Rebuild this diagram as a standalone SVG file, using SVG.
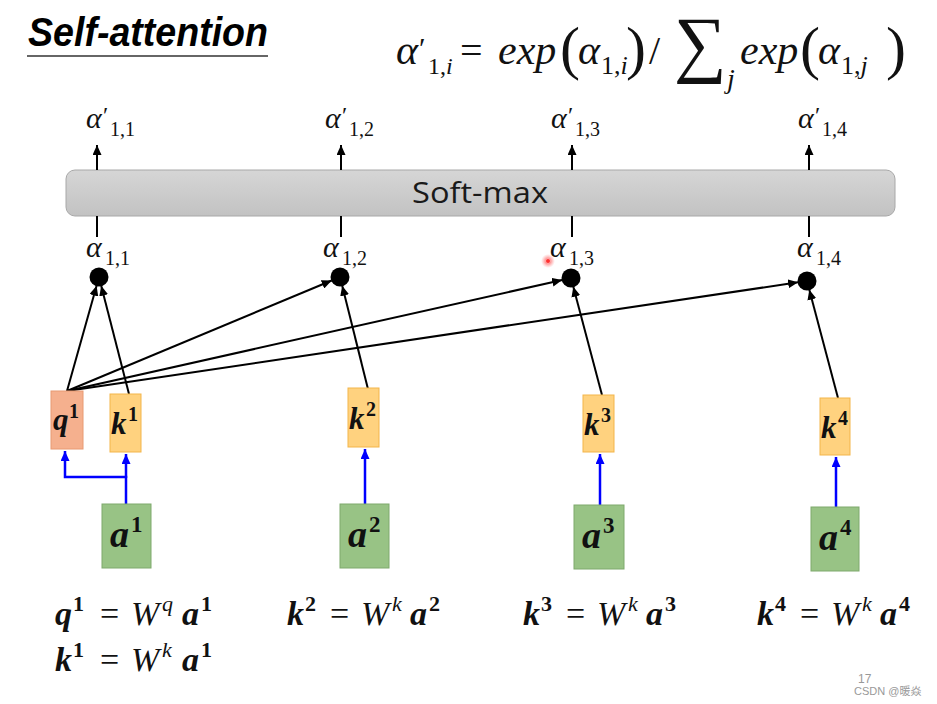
<svg xmlns="http://www.w3.org/2000/svg" width="937" height="704" viewBox="0 0 937 704">
<defs>
<style>
.m{font-family:"Liberation Serif","DejaVu Serif",serif;font-style:italic;fill:#111}
.u{font-family:"Liberation Serif","DejaVu Serif",serif;font-style:normal;fill:#111}
.b{font-family:"Liberation Serif","DejaVu Serif",serif;font-style:italic;font-weight:bold;fill:#111}
.bu{font-family:"Liberation Serif","DejaVu Serif",serif;font-style:normal;font-weight:bold;fill:#111}
.ln{stroke:#000;stroke-width:2;fill:none}
.bl{stroke:#0000ff;stroke-width:2.5;fill:none}
.q{fill:#f5b08e;stroke:#e89a72;stroke-width:1}
.k{fill:#ffd27f;stroke:#f3b54a;stroke-width:1}
.a{fill:#98c385;stroke:#7ea96d;stroke-width:1}
</style>
<linearGradient id="gbar" x1="0" y1="0" x2="0" y2="1">
<stop offset="0" stop-color="#d6d6d6"/>
<stop offset="1" stop-color="#c2c2c2"/>
</linearGradient>
<marker id="ah" markerUnits="userSpaceOnUse" markerWidth="10" markerHeight="9" refX="10" refY="4.5" orient="auto">
<path d="M0,0 L10,4.5 L0,9 z" fill="#000"/>
</marker>
<marker id="ahb" markerUnits="userSpaceOnUse" markerWidth="10" markerHeight="9" refX="10" refY="4.5" orient="auto">
<path d="M0,0 L10,4.5 L0,9 z" fill="#0000ff"/>
</marker>
<radialGradient id="laser">
<stop offset="0" stop-color="#ff2020" stop-opacity="0.9"/>
<stop offset="0.5" stop-color="#ff6060" stop-opacity="0.5"/>
<stop offset="1" stop-color="#ff8080" stop-opacity="0"/>
</radialGradient>
</defs>
<rect width="937" height="704" fill="#fff"/>

<g id="title">
<text x="28" y="46" font-family="'Liberation Sans',Arial,sans-serif" font-size="40" font-weight="bold" font-style="italic" textLength="240" lengthAdjust="spacingAndGlyphs" fill="#000">Self-attention</text>
<line x1="27" y1="56" x2="268" y2="56" stroke="#333" stroke-width="1.5"/>
</g>

<g id="formula">
<text class="m" font-size="42"><tspan x="396" y="64">α</tspan><tspan class="u" x="419" y="58" font-size="30">′</tspan><tspan class="u" x="428" y="74" font-size="24">1,</tspan><tspan class="m" font-size="24">i</tspan><tspan class="u" x="460" y="64" font-size="40">=</tspan><tspan x="498" y="64">exp</tspan><tspan class="u" x="560" y="68" font-size="60">(</tspan><tspan x="578" y="64">α</tspan><tspan class="u" x="601" y="74" font-size="26">1,</tspan><tspan class="m" font-size="26">i</tspan><tspan class="u" x="626" y="68" font-size="60">)</tspan><tspan class="u" x="649" y="64" font-size="40">/</tspan><tspan class="u" x="674" y="68" font-size="74">∑</tspan><tspan x="727" y="88" font-size="28">j</tspan><tspan x="740" y="64">exp</tspan><tspan class="u" x="800" y="68" font-size="60">(</tspan><tspan x="818" y="64">α</tspan><tspan class="u" x="841" y="74" font-size="26">1,</tspan><tspan class="m" font-size="26">j</tspan><tspan class="u" x="886" y="68" font-size="60">)</tspan></text>
</g>

<g id="softmax">
<rect x="66" y="170" width="829" height="46" rx="9" fill="url(#gbar)" stroke="#a8a8a8" stroke-width="1"/>
<text x="480" y="203" font-family="'Open Sans','Noto Sans',sans-serif" font-size="30" text-anchor="middle" textLength="136" lengthAdjust="spacingAndGlyphs" fill="#1a1a1a">Soft-max</text>
</g>

<g id="out-labels">
<text class="m" font-size="30"><tspan x="86" y="128">α</tspan><tspan class="u" x="103" y="123" font-size="24">′</tspan><tspan class="u" x="110" y="136" font-size="20">1,1</tspan></text>
<text class="m" font-size="30"><tspan x="325" y="128">α</tspan><tspan class="u" x="342" y="123" font-size="24">′</tspan><tspan class="u" x="349" y="136" font-size="20">1,2</tspan></text>
<text class="m" font-size="30"><tspan x="551" y="128">α</tspan><tspan class="u" x="568" y="123" font-size="24">′</tspan><tspan class="u" x="575" y="136" font-size="20">1,3</tspan></text>
<text class="m" font-size="30"><tspan x="798" y="128">α</tspan><tspan class="u" x="815" y="123" font-size="24">′</tspan><tspan class="u" x="822" y="136" font-size="20">1,4</tspan></text>
</g>

<g id="score-labels">
<text class="m" font-size="30"><tspan x="86" y="257">α</tspan><tspan class="u" x="105" y="265" font-size="20">1,1</tspan></text>
<text class="m" font-size="30"><tspan x="323" y="257">α</tspan><tspan class="u" x="342" y="265" font-size="20">1,2</tspan></text>
<text class="m" font-size="30"><tspan x="550" y="257">α</tspan><tspan class="u" x="569" y="265" font-size="20">1,3</tspan></text>
<text class="m" font-size="30"><tspan x="797" y="257">α</tspan><tspan class="u" x="816" y="265" font-size="20">1,4</tspan></text>
</g>

<g id="dots">
<circle cx="99" cy="277" r="9.5" fill="#000"/>
<circle cx="340" cy="277" r="9.5" fill="#000"/>
<circle cx="571" cy="278" r="9.5" fill="#000"/>
<circle cx="807" cy="281" r="9.5" fill="#000"/>
</g>

<g id="connectors">
<line class="ln" x1="97" y1="170" x2="97" y2="145" marker-end="url(#ah)"/>
<line class="ln" x1="341" y1="170" x2="341" y2="145" marker-end="url(#ah)"/>
<line class="ln" x1="572" y1="170" x2="572" y2="145" marker-end="url(#ah)"/>
<line class="ln" x1="809" y1="170" x2="809" y2="145" marker-end="url(#ah)"/>
<line class="ln" x1="97" y1="216" x2="97" y2="237"/>
<line class="ln" x1="341" y1="216" x2="341" y2="237"/>
<line class="ln" x1="572" y1="216" x2="572" y2="237"/>
<line class="ln" x1="809" y1="216" x2="809" y2="237"/>
<line class="ln" x1="67" y1="391" x2="96.6" y2="285.7" marker-end="url(#ah)"/>
<line class="ln" x1="129" y1="394" x2="101.2" y2="285.7" marker-end="url(#ah)"/>
<line class="ln" x1="67" y1="391" x2="331.7" y2="280.5" marker-end="url(#ah)"/>
<line class="ln" x1="368" y1="389" x2="342.2" y2="285.7" marker-end="url(#ah)"/>
<line class="ln" x1="67" y1="391" x2="562.2" y2="280" marker-end="url(#ah)"/>
<line class="ln" x1="602" y1="395" x2="573.3" y2="286.7" marker-end="url(#ah)"/>
<line class="ln" x1="67" y1="391" x2="798.1" y2="282.3" marker-end="url(#ah)"/>
<line class="ln" x1="838" y1="398" x2="809.3" y2="289.7" marker-end="url(#ah)"/>
<path class="bl" d="M126,504 V477 H65 V451" marker-end="url(#ahb)"/>
<path class="bl" d="M126,478 V454" marker-end="url(#ahb)"/>
<path class="bl" d="M365,504 V449" marker-end="url(#ahb)"/>
<path class="bl" d="M600,505 V454" marker-end="url(#ahb)"/>
<path class="bl" d="M836,507 V457" marker-end="url(#ahb)"/>
</g>

<g id="q1">
<rect class="q" x="51" y="391" width="32" height="58"/>
<text class="b" font-size="31"><tspan x="53" y="430">q</tspan><tspan class="bu" x="69" y="418" font-size="20">1</tspan></text>
</g>
<g id="k1">
<rect class="k" x="110" y="394" width="31" height="58"/>
<text class="b" font-size="31"><tspan x="111" y="434">k</tspan><tspan class="bu" x="128" y="421" font-size="20">1</tspan></text>
</g>
<g id="k2">
<rect class="k" x="348" y="388" width="31" height="59"/>
<text class="b" font-size="31"><tspan x="349" y="429">k</tspan><tspan class="bu" x="366" y="416" font-size="20">2</tspan></text>
</g>
<g id="k3">
<rect class="k" x="583" y="395" width="31" height="57"/>
<text class="b" font-size="31"><tspan x="584" y="435">k</tspan><tspan class="bu" x="601" y="422" font-size="20">3</tspan></text>
</g>
<g id="k4">
<rect class="k" x="820" y="398" width="30" height="57"/>
<text class="b" font-size="31"><tspan x="821" y="438">k</tspan><tspan class="bu" x="838" y="425" font-size="20">4</tspan></text>
</g>
<g id="a1">
<rect class="a" x="102" y="504" width="49" height="64"/>
<text class="b" font-size="38"><tspan x="110" y="547">a</tspan><tspan class="bu" x="131" y="532" font-size="23">1</tspan></text>
</g>
<g id="a2">
<rect class="a" x="340" y="504" width="49" height="64"/>
<text class="b" font-size="38"><tspan x="348" y="547">a</tspan><tspan class="bu" x="369" y="532" font-size="23">2</tspan></text>
</g>
<g id="a3">
<rect class="a" x="574" y="505" width="50" height="64"/>
<text class="b" font-size="38"><tspan x="582" y="548">a</tspan><tspan class="bu" x="603" y="533" font-size="23">3</tspan></text>
</g>
<g id="a4">
<rect class="a" x="811" y="507" width="48" height="64"/>
<text class="b" font-size="38"><tspan x="819" y="550">a</tspan><tspan class="bu" x="840" y="535" font-size="23">4</tspan></text>
</g>

<g id="equations">
<text class="u" font-size="34"><tspan class="b" x="55" y="625">q</tspan><tspan class="bu" x="73" y="611" font-size="22">1</tspan><tspan x="100" y="625">=</tspan><tspan class="m" x="131" y="625">W</tspan><tspan class="m" x="162" y="611" font-size="22">q</tspan><tspan class="b" x="182" y="625">a</tspan><tspan class="bu" x="201" y="611" font-size="22">1</tspan></text>
<text class="u" font-size="34"><tspan class="b" x="55" y="671">k</tspan><tspan class="bu" x="73" y="657" font-size="22">1</tspan><tspan x="100" y="671">=</tspan><tspan class="m" x="131" y="671">W</tspan><tspan class="m" x="162" y="657" font-size="22">k</tspan><tspan class="b" x="182" y="671">a</tspan><tspan class="bu" x="201" y="657" font-size="22">1</tspan></text>
<text class="u" font-size="34"><tspan class="b" x="287" y="625">k</tspan><tspan class="bu" x="305" y="611" font-size="22">2</tspan><tspan x="330" y="625">=</tspan><tspan class="m" x="361" y="625">W</tspan><tspan class="m" x="392" y="611" font-size="22">k</tspan><tspan class="b" x="410" y="625">a</tspan><tspan class="bu" x="429" y="611" font-size="22">2</tspan></text>
<text class="u" font-size="34"><tspan class="b" x="523" y="625">k</tspan><tspan class="bu" x="541" y="611" font-size="22">3</tspan><tspan x="566" y="625">=</tspan><tspan class="m" x="597" y="625">W</tspan><tspan class="m" x="628" y="611" font-size="22">k</tspan><tspan class="b" x="646" y="625">a</tspan><tspan class="bu" x="665" y="611" font-size="22">3</tspan></text>
<text class="u" font-size="34"><tspan class="b" x="757" y="625">k</tspan><tspan class="bu" x="775" y="611" font-size="22">4</tspan><tspan x="800" y="625">=</tspan><tspan class="m" x="831" y="625">W</tspan><tspan class="m" x="862" y="611" font-size="22">k</tspan><tspan class="b" x="880" y="625">a</tspan><tspan class="bu" x="899" y="611" font-size="22">4</tspan></text>
</g>

<g id="laser-dot">
<circle cx="548" cy="261" r="7" fill="url(#laser)"/>
<circle cx="548" cy="261" r="2.5" fill="#ff3030" stroke="#ffb0b0" stroke-width="1"/>
</g>

<g id="footer">
<text x="858" y="683" font-family="'Liberation Sans',Arial,sans-serif" font-size="12" fill="#999">17</text>
<text x="854" y="695" font-family="'Liberation Sans',Arial,'Noto Sans CJK SC',sans-serif" font-size="11" fill="#999">CSDN @暖焱</text>
</g>
</svg>
